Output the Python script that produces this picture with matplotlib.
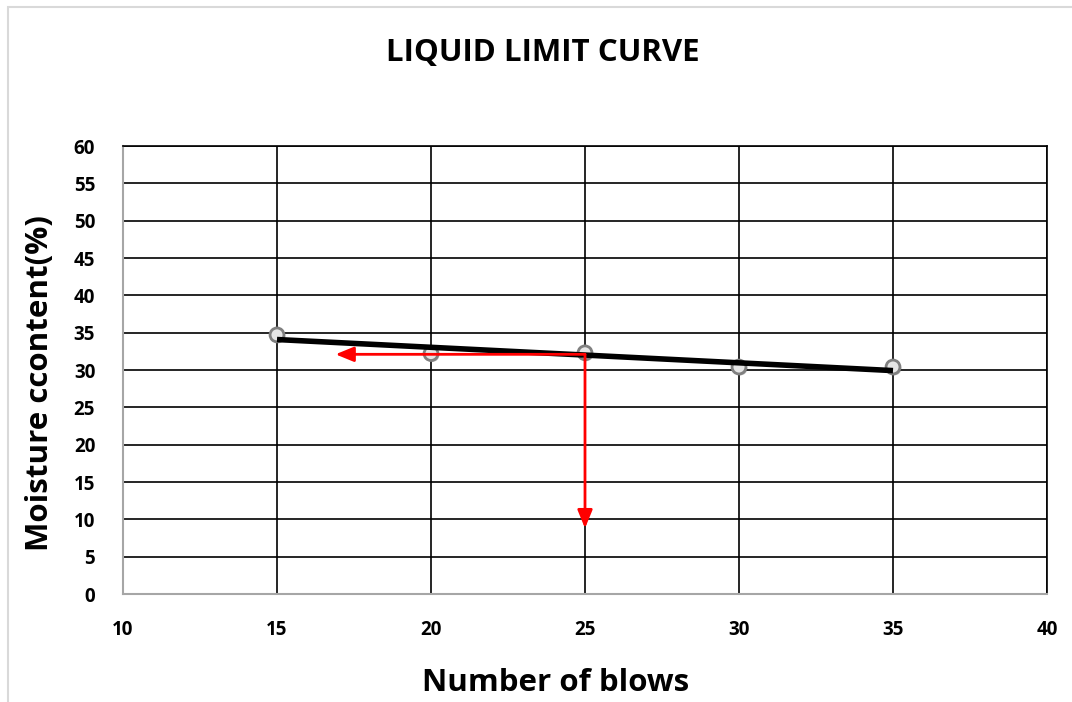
import numpy as np
import matplotlib
matplotlib.use("Agg")
import matplotlib.pyplot as plt
from matplotlib.patches import Rectangle
import matplotlib.patheffects as pe

# Liquid limit test results
blows = [15, 20, 25, 30, 35]
moisture = [34.7, 32.2, 32.3, 30.4, 30.4]

# Liquid limit read at 25 blows
ll_blows = 25
ll_moisture = 32.1
arrow_left_end = 16.9
arrow_down_end = 8.8

x_ticks = [10, 15, 20, 25, 30, 35, 40]
y_ticks = list(range(0, 61, 5))

plt.rcParams['font.family'] = ['Open Sans', 'DejaVu Sans']

W, H = 1072, 702
fig = plt.figure(figsize=(W / 100, H / 100), dpi=100)
fig.patch.set_facecolor('white')

# outer chart frame
fig.patches.append(Rectangle((8 / W, -0.05), 1.1, (H - 7) / H + 0.05,
                             transform=fig.transFigure, fill=False,
                             edgecolor='#d9d9d9', linewidth=1.5))

ax = fig.add_axes([123 / W, 1 - 594 / H, (1047 - 123) / W, (594 - 146) / H])
ax.set_xlim(10, 40)
ax.set_ylim(0, 60)
ax.set_xticks(x_ticks)
ax.set_yticks(y_ticks)
ax.grid(True, color='black', linewidth=1.2)
ax.set_axisbelow(True)
for s in ['left', 'bottom']:
    ax.spines[s].set_color('#a6a6a6')
    ax.spines[s].set_linewidth(1.5)
for s in ['top', 'right']:
    ax.spines[s].set_color('black')
    ax.spines[s].set_linewidth(1.2)
ax.tick_params(length=0, labelsize=13.5)
ax.tick_params(axis='x', pad=19)
ax.tick_params(axis='y', pad=20)
for lab in ax.get_xticklabels() + ax.get_yticklabels():
    lab.set_fontweight('bold')

# linear trend line over the data range
coef = np.polyfit(blows, moisture, 1)
xs = np.array([min(blows), max(blows)])
ax.plot(xs, np.polyval(coef, xs), color='black', linewidth=4, zorder=4,
        solid_capstyle='butt')

# data points
ax.plot(blows, moisture, linestyle='none', marker='o', markersize=10,
        markerfacecolor='#e6e6e6', markeredgecolor='#808080',
        markeredgewidth=2, zorder=3,
        path_effects=[pe.SimplePatchShadow(offset=(1, -1), alpha=0.4),
                      pe.Normal()])

# red guide arrows
arrow_kw = dict(arrowstyle='-|>,head_length=1.1,head_width=0.45',
                color='red', lw=2, shrinkA=0, shrinkB=0)
ax.annotate('', xy=(arrow_left_end, ll_moisture), xytext=(ll_blows, ll_moisture),
            arrowprops=arrow_kw, zorder=5)
ax.annotate('', xy=(ll_blows, arrow_down_end), xytext=(ll_blows, ll_moisture),
            arrowprops=arrow_kw, zorder=5)

fig.text(543 / W, 1 - 53 / H, 'LIQUID LIMIT CURVE', ha='center', va='center',
         fontsize=22.5, fontweight='bold')
fig.text(556 / W, 1 - 683 / H, 'Number of blows', ha='center', va='center',
         fontsize=22.5, fontweight='bold')
fig.text(40 / W, 1 - 383 / H, 'Moisture ccontent(%)', ha='center', va='center',
         rotation=90, fontsize=22.5, fontweight='bold')

fig.savefig('out.png', dpi=100)
